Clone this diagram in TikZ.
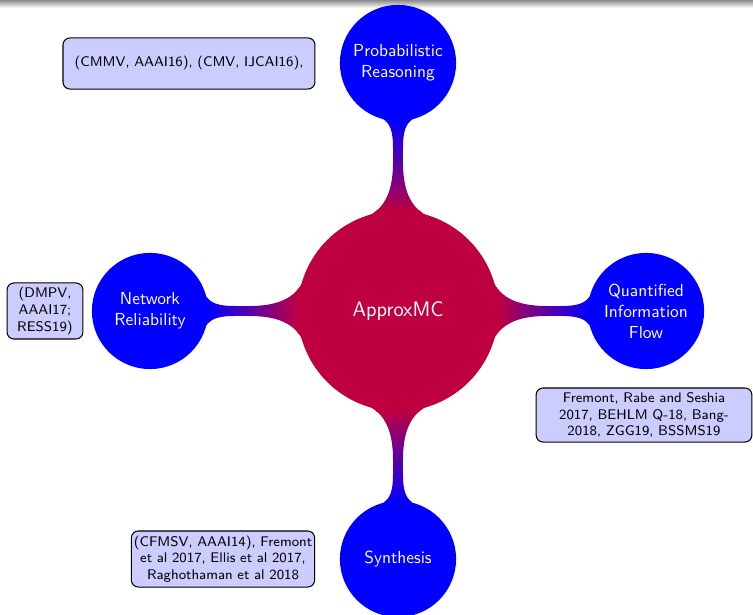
\documentclass[tikz,border=0pt]{standalone}
\usetikzlibrary{mindmap,backgrounds}
\begin{document}
\begin{tikzpicture}[mindmap,
  rootnode/.style={concept, concept color=purple, circle, minimum size=4cm, text width=3cm, align=center, inner sep=0pt, text=white, font=\sffamily\fontsize{12}{14}\selectfont},
  childnode/.style={concept, concept color=blue, circle, minimum size=2.3cm, text width=1.9cm, align=center, inner sep=0pt, text=white, font=\sffamily\fontsize{10}{12}\selectfont},
  notebox/.style={shape=rectangle, draw=black, line width=0.6pt, fill=blue!20, rounded corners=4pt, text=black, align=center, inner sep=1pt, font=\sffamily\fontsize{8}{9.5}\selectfont},
  bar/.style={circle connection bar switch color=from (purple) to (blue)}
]
\useasboundingbox (-8.024,-6.109) rectangle (7.157,6.270);
\shade[top color=black!45, bottom color=white] (-8.024,6.270) rectangle (7.157,6.11);

\node[rootnode] (root) at (0,0) {ApproxMC};
\node[childnode] (pr) at (0,5) {Probabilistic\\Reasoning};
\node[childnode] (nr) at (-5,0) {Network\\Reliability};
\node[childnode] (qif) at (5,0) {Quantified\\Information\\Flow};
\node[childnode] (syn) at (0,-5) {Synthesis};

\begin{scope}[on background layer]
\path (root) to[bar] (pr);
\path (root) to[bar] (nr);
\path (root) to[bar] (qif);
\path (root) to[bar] (syn);
\end{scope}

\node[notebox, text width=4.9cm, minimum width=5.08cm, minimum height=1.03cm] (a1) at (-4.214,4.99) {(CMMV, AAAI16), (CMV, IJCAI16),};
\node[notebox, text width=1.4cm, minimum width=1.53cm, minimum height=1.13cm] (a2) at (-7.117,0) {(DMPV,\\AAAI17;\\RESS19)};
\node[notebox, text width=4.2cm, minimum width=4.35cm, minimum height=1.09cm] (a3) at (4.96,-2.097) {Fremont, Rabe and Seshia\\2017, BEHLM Q-18, Bang-\\2018, ZGG19, BSSMS19};
\node[notebox, text width=3.66cm, inner sep=0.5pt, minimum width=3.67cm, minimum height=1.13cm] (a4) at (-3.528,-5.0) {(CFMSV, AAAI14), Fremont\\et al 2017, Ellis et al 2017,\\Raghothaman et al 2018};
\end{tikzpicture}
\end{document}
